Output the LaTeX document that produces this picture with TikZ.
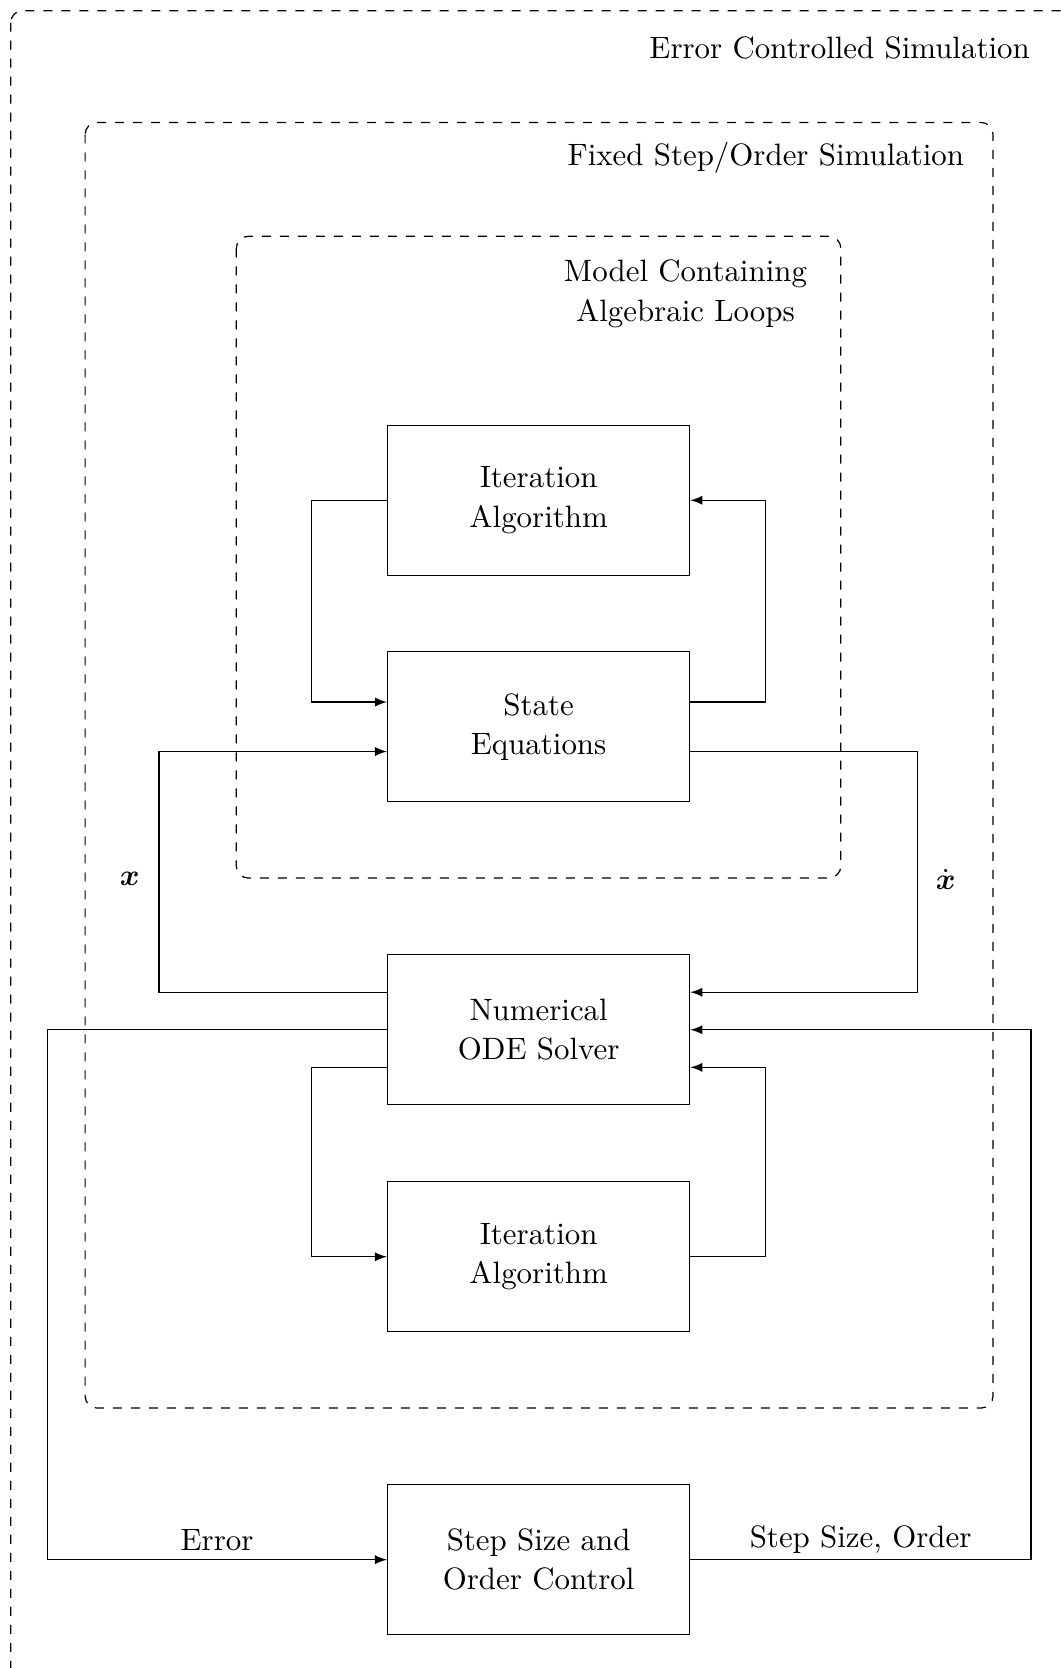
\documentclass[tikz,border=0pt]{standalone}
\usepackage{amsmath}
\usepackage{amssymb}
\usepackage{tikz}
\usetikzlibrary{arrows,shapes,positioning}
\tikzstyle{arrow} = [->,>=latex]
\tikzstyle{blockbox} = [rectangle, minimum width=3.54cm, minimum height=1.755cm, text centered, align=center, draw=black]
\tikzstyle{frame} = [dashed, rounded corners=4pt]

\begin{document}
\begin{tikzpicture}[every node/.style={font=\fontsize{10.3}{13.1}\selectfont}]
\useasboundingbox (0,0) rectangle (12.418,-19.54);

% Simulation frames
\draw[frame] (0.125,-0.125) rectangle (12.7,-19.8);
\node[anchor=east, inner sep=0pt] (errtitle) at (12.07,-0.56) {Error Controlled Simulation};

\draw[frame] (0.997,-1.434) rectangle (11.633,-16.495);
\node[anchor=east, inner sep=0pt] (fixtitle) at (11.30,-1.845) {Fixed Step/Order Simulation};

\draw[frame] (2.768,-2.768) rectangle (9.850,-10.286);
\node[align=center] (modtitle) at (8.03,-3.44) {Model Containing\\Algebraic Loops};

% Blocks
\node[blockbox] (iter1) at (6.31,-5.86) {Iteration\\Algorithm};
\node[blockbox, below=0.885cm of iter1] (state) {State\\Equations};
\node[blockbox, below=1.78cm of state] (ode) {Numerical\\ODE Solver};
\node[blockbox, below=0.89cm of ode] (iter2) {Iteration\\Algorithm};
\node[blockbox, below=1.78cm of iter2] (ctrl) {Step Size and\\Order Control};

% Algebraic loop
\draw[arrow] (iter1.west) -- ++(-0.88,0) |- ([yshift=0.29cm]state.west);
\draw[arrow] ([yshift=0.29cm]state.east) -- ++(0.88,0) |- (iter1.east);

% States and derivatives
\draw[arrow] ([yshift=0.44cm]ode.west) -- ++(-2.67,0) |- ([yshift=-0.29cm]state.west);
\draw[arrow] ([yshift=-0.29cm]state.east) -- ++(2.66,0) |- ([yshift=0.44cm]ode.east);
\node (xlab) at (1.52,-10.30) {$\boldsymbol{x}$};
\node (xdotlab) at (11.08,-10.30) {$\dot{\boldsymbol{x}}$};

% Solver iteration
\draw[arrow] ([yshift=-0.44cm]ode.west) -- ++(-0.88,0) |- (iter2.west);
\draw[arrow] (iter2.east) -- ++(0.88,0) |- ([yshift=-0.44cm]ode.east);

% Error control
\draw[arrow] (ode.west) -- ++(-3.98,0) |- (ctrl.west) node[pos=0.75, above, yshift=-0.5pt] {Error};
\draw[arrow] (ctrl.east) -- ++(3.99,0) node[midway, above, yshift=-1.5pt] {Step Size, Order} |- (ode.east);
\end{tikzpicture}
\end{document}
